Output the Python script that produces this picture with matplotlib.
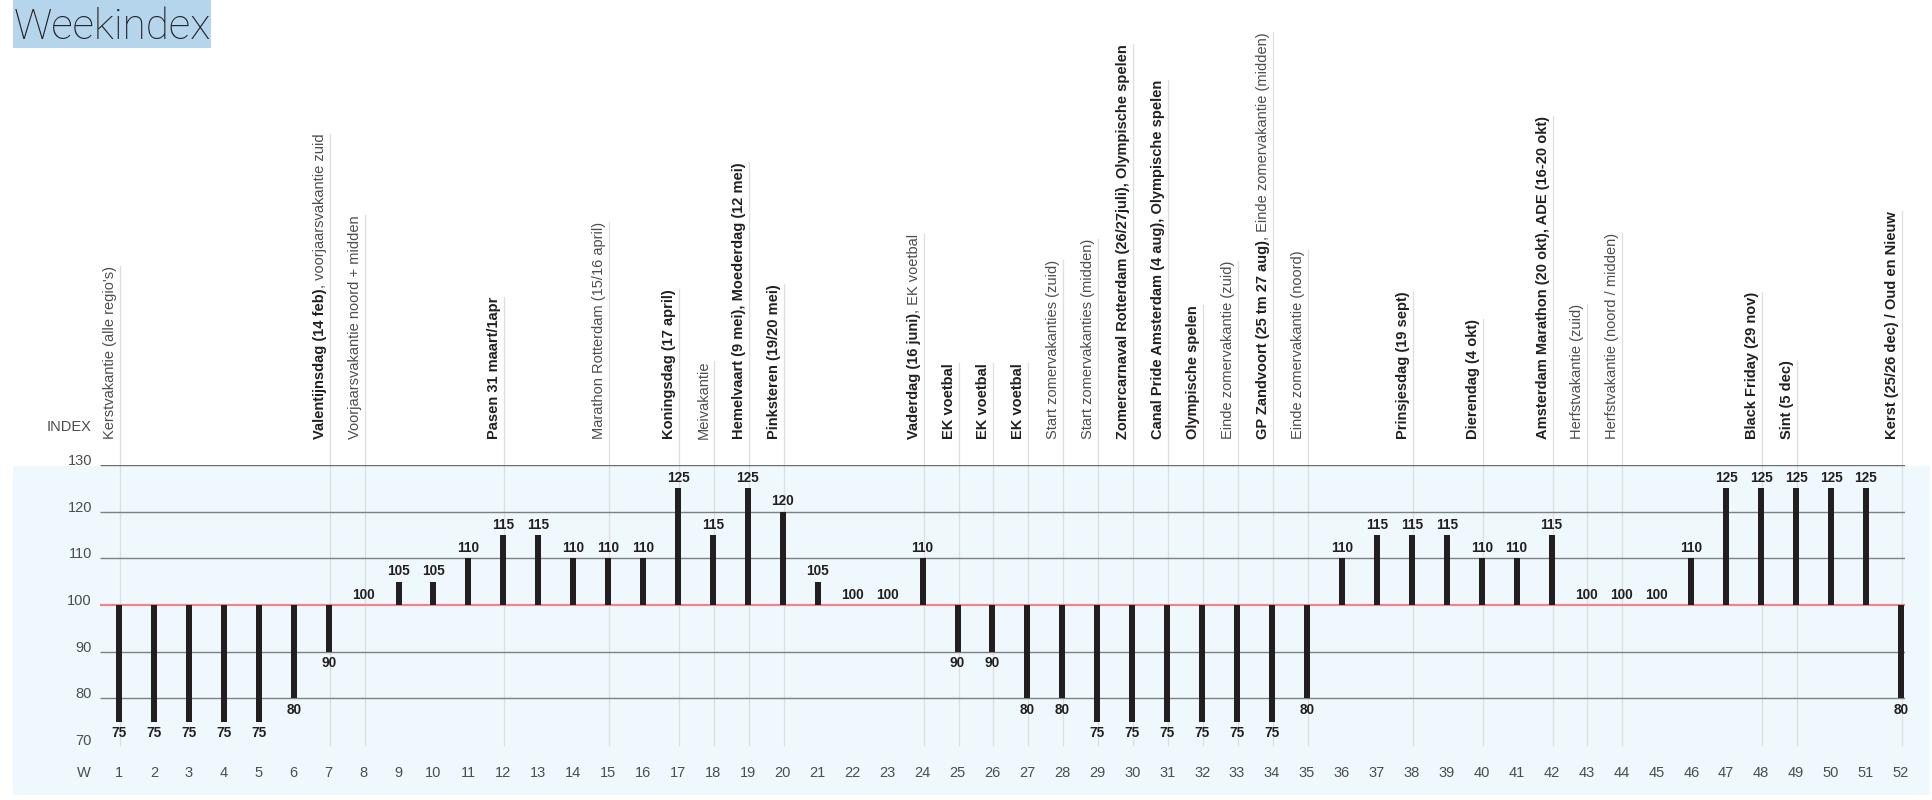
import matplotlib
matplotlib.use('Agg')
import matplotlib.pyplot as plt
from matplotlib.patches import Rectangle
from matplotlib.lines import Line2D
from matplotlib.transforms import blended_transform_factory, ScaledTranslation

plt.rcParams['font.family'] = ['Liberation Sans', 'DejaVu Sans']

weeks = list(range(1, 53))
index = [75, 75, 75, 75, 75, 80, 90, 100, 105, 105, 110, 115, 115, 110, 110, 110, 125, 115, 125, 120,
         105, 100, 100, 110, 90, 90, 80, 80, 75, 75, 75, 75, 75, 75, 80, 110, 115, 115, 115, 110,
         110, 115, 100, 100, 100, 110, 125, 125, 125, 125, 125, 80]
y_ticks = [70, 80, 90, 100, 110, 120, 130]
grid_levels = [80, 90, 110, 120, 130]

# events per week: bold part + normal part
event_weeks = [1, 7, 8, 12, 15, 17, 18, 19, 20, 24, 25, 26, 27, 28, 29, 30, 31, 32, 33, 34, 35,
               38, 40, 42, 43, 44, 48, 49, 52]
event_bold = ['', 'Valentijnsdag (14 feb)', '', 'Pasen 31 maart/1apr', '', 'Koningsdag (17 april)', '',
              'Hemelvaart (9 mei), Moederdag (12 mei)', 'Pinksteren (19/20 mei)', 'Vaderdag (16 juni)',
              'EK voetbal', 'EK voetbal', 'EK voetbal', '', '',
              'Zomercarnaval Rotterdam (26/27juli), Olympische spelen',
              'Canal Pride Amsterdam (4 aug), Olympische spelen', 'Olympische spelen', '',
              'GP Zandvoort (25 tm 27 aug)', '', 'Prinsjesdag (19 sept)', 'Dierendag (4 okt)',
              'Amsterdam Marathon (20 okt), ADE (16-20 okt)', '', '', 'Black Friday (29 nov)',
              'Sint (5 dec)', 'Kerst (25/26 dec) / Oud en Nieuw']
event_normal = ["Kerstvakantie (alle regio's)", ', voorjaarsvakantie zuid', 'Voorjaarsvakantie noord + midden',
                '', 'Marathon Rotterdam (15/16 april)', '', 'Meivakantie', '', '', ', EK voetbal',
                '', '', '', 'Start zomervakanties (zuid)', 'Start zomervakanties (midden)', '', '', '',
                'Einde zomervakantie (zuid)', ', Einde zomervakantie (midden)', 'Einde zomervakantie (noord)',
                '', '', '', 'Herfstvakantie (zuid)', 'Herfstvakantie (noord / midden)', '', '', '']

W, H = 1933, 800
dark = '#231f20'
grey_txt = '#4d4d4d'

fig = plt.figure(figsize=(W / 100, H / 100), dpi=100)

# background panel + title box (behind the axes)
fig.patches.append(Rectangle((13 / W, 5 / H), 1917 / W, 329 / H, transform=fig.transFigure,
                             facecolor='#eff8fc', edgecolor='none', zorder=-2))
fig.patches.append(Rectangle((13 / W, 1 - 48 / H), 198 / W, 48 / H, transform=fig.transFigure,
                             facecolor='#b5d5ec', edgecolor='none', zorder=-2))
fig.text(14 / W, 1 - 39 / H, 'Weekindex', fontsize=30.5, color=dark, va='baseline', ha='left',
         family=['Roboto', 'Liberation Sans'], fontweight='light')

step = 34.94
ax = fig.add_axes([100 / W, 55 / H, 1805 / W, 280 / H])
ax.set_xlim(1 + (100 - 119) / step, 1 + (1905 - 119) / step)
ax.set_ylim(70, 130)
ax.axis('off')
ax.patch.set_alpha(0)

x0, x1 = ax.get_xlim()
for t in grid_levels:
    ax.hlines(t, x0, x1, color='#6e6e6e' if t == 130 else '#808080', linewidth=1.0, zorder=1)
for t in y_ticks:
    ax.text(x0 - 8 / step, t, str(t), ha='right', va='baseline', fontsize=10.5, color=grey_txt)
ax.hlines(100, x0, x1, color='#f08488', linewidth=1.6, zorder=3)

ax.bar(weeks, [v - 100 for v in index], bottom=100, width=6 / step, color=dark, zorder=4)
for w, v in zip(weeks, index):
    if v >= 100:
        ax.annotate(str(v), (w, v), xytext=(0, 2.5), textcoords='offset points', ha='center',
                    va='bottom', fontsize=9.8, fontweight='bold', color=dark)
    else:
        ax.annotate(str(v), (w, v), xytext=(0, -3), textcoords='offset points', ha='center',
                    va='top', fontsize=9.8, fontweight='bold', color=dark)

# x axis labels
xf = blended_transform_factory(ax.transData, fig.transFigure)
fig.text(84 / W, 27 / H, 'W', ha='center', va='center', fontsize=10.5, color=grey_txt)
for w in weeks:
    ax.text(w, 27 / H, str(w), transform=xf, ha='center', va='center', fontsize=10.5,
            color=grey_txt, clip_on=False)

ax.text(x0 - 8 / step, (H - 431) / H, 'INDEX', transform=xf, ha='right', va='baseline',
        fontsize=10.5, color=grey_txt, clip_on=False)

# event labels (rotated, bold + normal parts)
label_tf = xf + ScaledTranslation(-2 / 100, 0, fig.dpi_scale_trans)
last_parts = []
for w, b, n in zip(event_weeks, event_bold, event_normal):
    prev = None
    if b:
        prev = ax.text(w, (H - 439) / H, b, transform=label_tf, rotation=90, ha='right', va='bottom',
                       fontsize=10.5, fontweight='bold', color=dark, clip_on=False)
    if n:
        if prev is None:
            prev = ax.text(w, (H - 439) / H, n, transform=label_tf, rotation=90, ha='right', va='bottom',
                           fontsize=10.5, color=grey_txt, clip_on=False)
        else:
            prev = ax.annotate(n, xy=(1, 1), xycoords=prev, rotation=90, ha='right', va='bottom',
                               fontsize=10.5, color=grey_txt, annotation_clip=False)
    last_parts.append((w, prev))

fig.canvas.draw()
renderer = fig.canvas.get_renderer()
y_bottom = ax.transData.transform((0, 70))[1] / fig.bbox.height
for w, t in last_parts:
    top = t.get_window_extent(renderer).y1 / fig.bbox.height
    ax.add_line(Line2D([w + 1 / step, w + 1 / step], [y_bottom, top], transform=xf,
                       color='#dcdee0', linewidth=0.9, zorder=0.5, clip_on=False))

fig.savefig('out.png', dpi=100)
